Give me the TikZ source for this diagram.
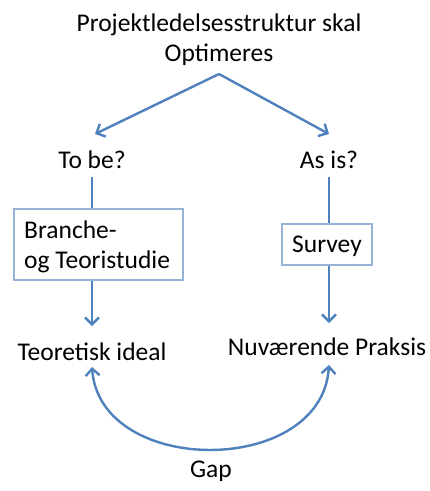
\documentclass[tikz,border=0pt]{standalone}
\usepackage{fontspec}
\setmainfont{Carlito}
\usetikzlibrary{arrows.meta}
\definecolor{linkblue}{RGB}{79,129,189}
\definecolor{boxblue}{RGB}{149,179,215}
\begin{document}
\begin{tikzpicture}[x=1pt,y=-1pt,
  lbl/.style={font=\fontsize{25.5}{30}\selectfont, inner sep=0pt, align=center},
  stagebox/.style={draw=boxblue, line width=1.2pt, inner sep=0pt},
  link/.style={draw=linkblue, line width=2.4pt, -{Straight Barb[length=7pt,width=14pt,line width=2.4pt]}},
  plain/.style={draw=linkblue, line width=2.4pt}]
\useasboundingbox (0,0) rectangle (430,491);
\fill[white] (0,0) rectangle (430,491);

\node[lbl] (goal) at (219,40) {Projektledelsesstruktur skal\\Optimeres};
\coordinate (split) at (219,74);

\node[lbl] (tobe) at (92,160) {To be?};
\node[lbl] (asis) at (329,160) {As is?};

\node[stagebox, minimum width=169pt, minimum height=71pt] (branche) at (98.5,244.5) {};
\node[lbl, align=left, anchor=west] (branchetxt) at (24,247) {Branche-\\og Teoristudie};
\node[stagebox, minimum width=90pt, minimum height=41pt] (survey) at (327,244.5) {};
\node[lbl] (surveytxt) at (327,246) {Survey};

\node[lbl] (ideal) at (92,352) {Teoretisk ideal};
\node[lbl] (praksis) at (327,347) {Nuværende Praksis};
\node[lbl] (gap) at (211,471) {Gap};

\coordinate (tobeA) at (95,134);
\coordinate (asisA) at (329,134);
\draw[link] (split) -- (tobeA);
\draw[link] (split) -- (asisA);

\draw[plain] (92,177) -- (branche.north -| 92,0);
\draw[link] (branche.south -| 92,0) -- (92,326);
\draw[plain] (329,177) -- (survey.north -| 329,0);
\draw[link] (survey.south -| 329,0) -- (329,323);

\draw[draw=linkblue, line width=2.4pt, {Straight Barb[length=7pt,width=14pt,line width=2.4pt]}-{Straight Barb[length=7pt,width=14pt,line width=2.4pt]}]
  (92,367) .. controls (100,477) and (322,477) .. (329,365);
\end{tikzpicture}
\end{document}
